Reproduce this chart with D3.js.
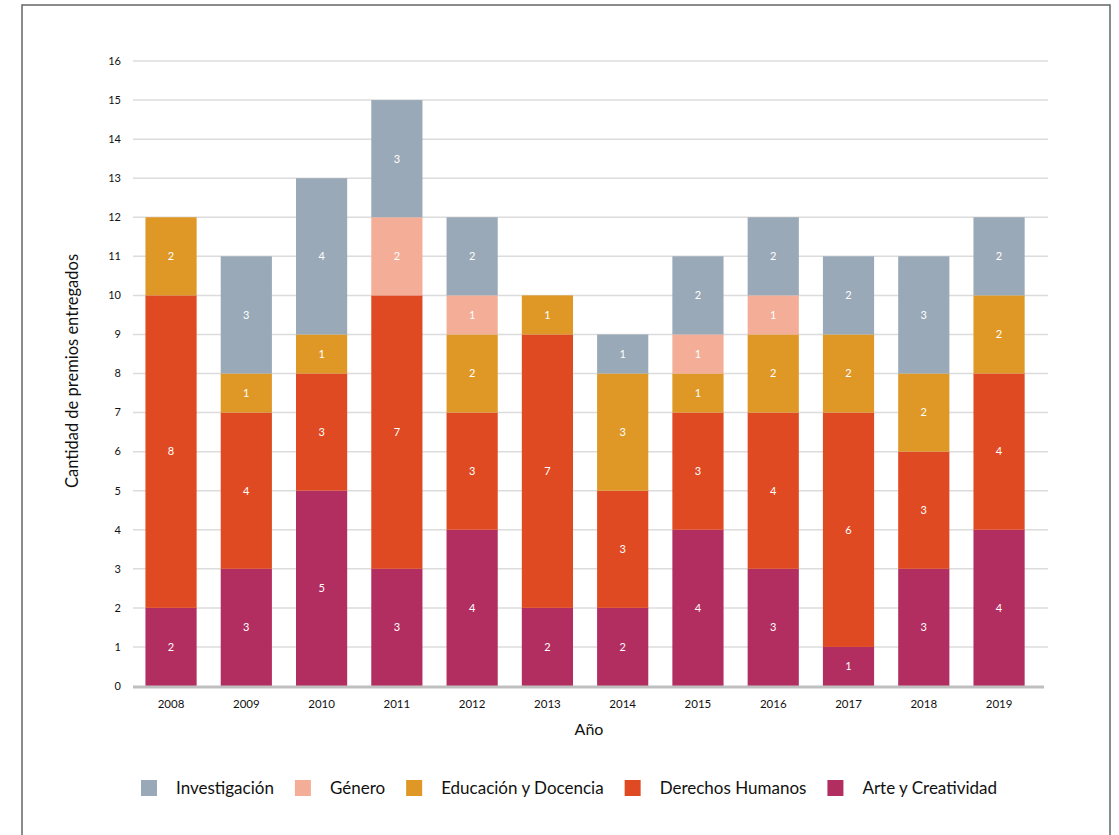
<!DOCTYPE html>
<html><head><meta charset="utf-8">
<script src="https://cdn.jsdelivr.net/npm/d3@7"></script>
<style>body{margin:0;background:#fff;} text{font-family:Lato, "Open Sans", sans-serif;}</style>
</head><body>
<svg id="c" width="1119" height="835"></svg>
<script>
const years = ["2008","2009","2010","2011","2012","2013","2014","2015","2016","2017","2018","2019"];
const seriesNames = ["Arte y Creatividad","Derechos Humanos","Educación y Docencia","Género","Investigación"];
const arte        = [2,3,5,3,4,2,2,4,3,1,3,4];
const derechos    = [8,4,3,7,3,7,3,3,4,6,3,4];
const educacion   = [2,1,1,0,2,1,3,1,2,2,2,2];
const genero      = [0,0,0,2,1,0,0,1,1,0,0,0];
const investigacion = [0,3,4,3,2,0,1,2,2,2,3,2];
const yTicks = [0,1,2,3,4,5,6,7,8,9,10,11,12,13,14,15,16];
const colors = ["#b22e60","#e04a22","#df9826","#f4ae98","#9aa9b7"];
const legendOrder = ["Investigación","Género","Educación y Docencia","Derechos Humanos","Arte y Creatividad"];

const svg = d3.select("#c");
// frame
svg.append("rect").attr("x",22).attr("y",5).attr("width",1088).attr("height",840)
  .attr("fill","none").attr("stroke","#666").attr("stroke-width",1.5);

const x = d3.scaleBand().domain(years).range([133.4,1036.7]).paddingInner(0.32).paddingOuter(0.16);
const y = d3.scaleLinear().domain([0,16]).range([686,61]);

// grid
svg.append("g").selectAll("line").data(yTicks.filter(d=>d>0)).join("line")
  .attr("x1",133).attr("x2",1048).attr("y1",d=>y(d)).attr("y2",d=>y(d))
  .attr("stroke","#dcdcdc").attr("stroke-width",1.5);

// y tick labels
svg.append("g").selectAll("text").data(yTicks).join("text")
  .attr("x",121).attr("y",d=>y(d)).attr("dy","0.35em").attr("text-anchor","end")
  .attr("font-size",11).attr("fill","#111").text(d=>d);

// stack
const table = years.map((yr,i)=>({year:yr,"Arte y Creatividad":arte[i],"Derechos Humanos":derechos[i],
  "Educación y Docencia":educacion[i],"Género":genero[i],"Investigación":investigacion[i]}));
const stack = d3.stack().keys(seriesNames)(table);
const color = d3.scaleOrdinal().domain(seriesNames).range(colors);

const g = svg.append("g");
stack.forEach(s=>{
  const sg = g.append("g");
  sg.selectAll("rect").data(s.filter(d=>d[1]-d[0]>0)).join("rect")
    .attr("x",d=>x(d.data.year)).attr("width",x.bandwidth())
    .attr("y",d=>y(d[1])).attr("height",d=>y(d[0])-y(d[1]))
    .attr("fill",color(s.key));
  sg.selectAll("text").data(s.filter(d=>d[1]-d[0]>0)).join("text")
    .attr("x",d=>x(d.data.year)+x.bandwidth()/2).attr("y",d=>y((d[0]+d[1])/2))
    .attr("dy","0.35em").attr("text-anchor","middle").attr("font-size",11).attr("fill","#fff")
    .text(d=>d[1]-d[0]);
});

// baseline
svg.append("line").attr("x1",133).attr("x2",1044).attr("y1",y(0)+1).attr("y2",y(0)+1)
  .attr("stroke","#bfbfbf").attr("stroke-width",3);

// x labels
svg.append("g").selectAll("text").data(years).join("text")
  .attr("x",d=>x(d)+x.bandwidth()/2).attr("y",704).attr("dy","0.35em").attr("text-anchor","middle")
  .attr("font-size",11.5).attr("fill","#111").text(d=>d);

svg.append("text").attr("x",589).attr("y",729).attr("dy","0.35em").attr("text-anchor","middle")
  .attr("font-size",16).attr("fill","#111").text("Año");
svg.append("text").attr("transform","translate(72,371) rotate(-90)").attr("dy","0.35em")
  .attr("text-anchor","middle").attr("font-size",16.5).attr("fill","#111").text("Cantidad de premios entregados");

// legend
let lx = 141;
const lg = svg.append("g");
legendOrder.forEach(name=>{
  lg.append("rect").attr("x",lx).attr("y",780).attr("width",16).attr("height",16).attr("fill",color(name));
  const t = lg.append("text").attr("x",lx+35).attr("y",788).attr("dy","0.35em")
    .attr("font-size",17).attr("fill","#111").text(name);
  const w = t.node().getComputedTextLength();
  lx = lx+35+w+21;
});
</script>
</body></html>
